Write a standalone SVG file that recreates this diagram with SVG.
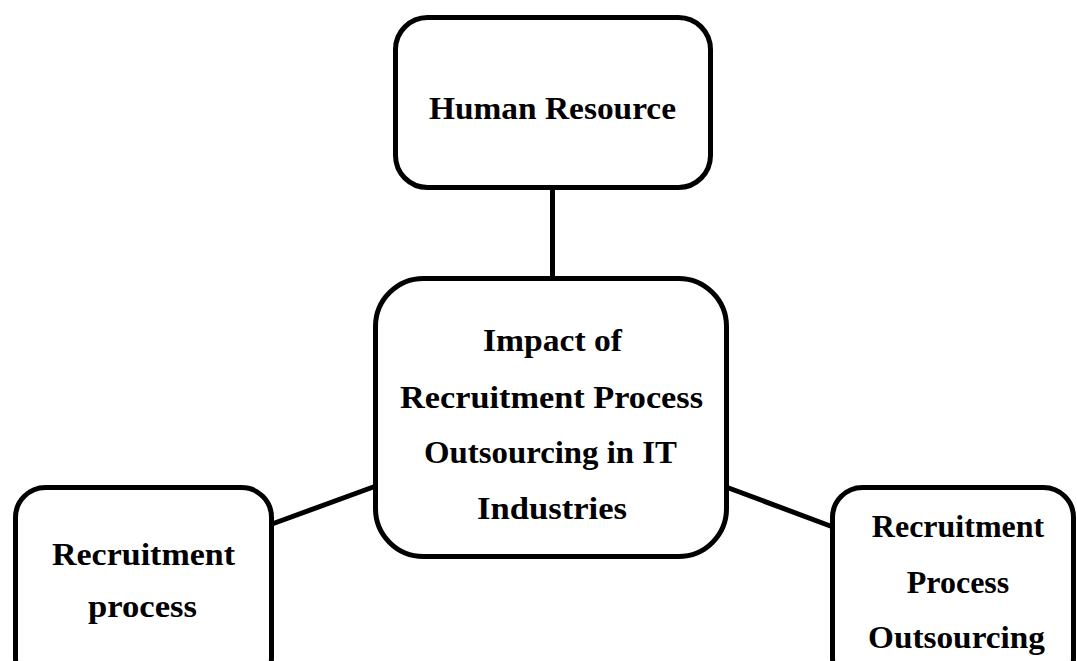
<svg xmlns="http://www.w3.org/2000/svg" width="1077" height="661" viewBox="0 0 1077 661">
  <style>
    .box { fill: #ffffff; stroke: #000000; stroke-width: 5; }
    .link { stroke: #000000; stroke-width: 5; fill: none; }
    .lbl { font-family: "Liberation Serif", "Times New Roman", serif; font-weight: bold; font-size: 30.5px; fill: #000000; text-anchor: middle; }
    .lbl2 { font-family: "Liberation Serif", "Times New Roman", serif; font-weight: bold; font-size: 32px; fill: #000000; text-anchor: middle; }
  </style>
  <rect width="1077" height="661" fill="#ffffff"/>

  <g id="connectors">
    <line class="link" x1="552.5" y1="188" x2="552.5" y2="279"/>
    <line class="link" x1="272" y1="524" x2="376" y2="486"/>
    <line class="link" x1="726" y1="487" x2="833" y2="527"/>
  </g>

  <g id="human-resource">
    <rect class="box" x="395.5" y="17.5" width="315" height="170" rx="32"/>
    <text class="lbl" x="552.5" y="119" textLength="247" lengthAdjust="spacingAndGlyphs">Human Resource</text>
  </g>

  <g id="impact">
    <rect class="box" x="375.5" y="278.5" width="351" height="278" rx="48"/>
    <text class="lbl" x="552.5" y="351" textLength="139" lengthAdjust="spacingAndGlyphs">Impact of</text>
    <text class="lbl" x="551.5" y="408" textLength="303" lengthAdjust="spacingAndGlyphs">Recruitment Process</text>
    <text class="lbl" x="550.5" y="463" textLength="253" lengthAdjust="spacingAndGlyphs">Outsourcing in IT</text>
    <text class="lbl" x="552" y="519" textLength="150" lengthAdjust="spacingAndGlyphs">Industries</text>
  </g>

  <g id="recruitment-process">
    <rect class="box" x="15.5" y="487.5" width="256" height="200" rx="30"/>
    <text class="lbl" x="143.5" y="565" textLength="183" lengthAdjust="spacingAndGlyphs">Recruitment</text>
    <text class="lbl" x="142.5" y="617" textLength="109" lengthAdjust="spacingAndGlyphs">process</text>
  </g>

  <g id="rpo">
    <rect class="box" x="832.5" y="487.5" width="241" height="200" rx="30"/>
    <text class="lbl2" x="958" y="537">Recruitment</text>
    <text class="lbl2" x="958" y="593">Process</text>
    <text class="lbl2" x="956.5" y="648" textLength="177" lengthAdjust="spacingAndGlyphs">Outsourcing</text>
  </g>
</svg>
